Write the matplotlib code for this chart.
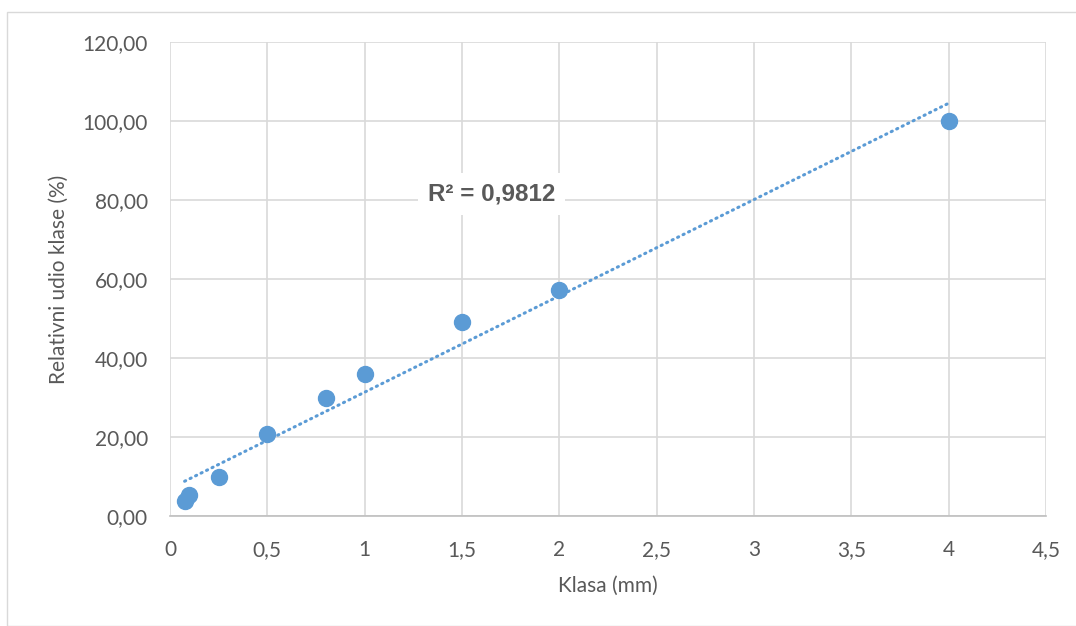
import numpy as np
import matplotlib.pyplot as plt
from matplotlib.patches import Rectangle

# data
klasa = [0.075, 0.1, 0.25, 0.5, 0.8, 1.0, 1.5, 2.0, 4.0]
udio = [3.8, 5.3, 10.0, 20.7, 29.8, 36.0, 49.2, 57.2, 100.0]
r2_text = 'R² = 0,9812'
yticks = [0, 20, 40, 60, 80, 100, 120]
xticks = [0, 0.5, 1, 1.5, 2, 2.5, 3, 3.5, 4, 4.5]

blue = '#5B9BD5'
grey = '#595959'
plt.rcParams['font.family'] = ['Lato', 'DejaVu Sans']

fig = plt.figure(figsize=(10.76, 6.26), dpi=100)
# outer chart border
fig.patches.append(Rectangle((7/1076, 0), 1.1, 1 - 12/626, transform=fig.transFigure,
                             fill=False, edgecolor='#D9D9D9', linewidth=1))
ax = fig.add_axes([170/1076, 1 - 516/626, 876/1076, 474/626])

# linear trendline
p = np.polyfit(klasa, udio, 1)
xt = np.array([min(klasa), max(klasa)])
ax.plot(xt, np.polyval(p, xt), color=blue, linewidth=2.2,
        linestyle=(0, (0.4, 1.6)), dash_capstyle='round', zorder=3)
ax.plot(klasa, udio, 'o', color=blue, markersize=11.5, zorder=4)

ax.set_xlim(0, 4.5)
ax.set_ylim(0, 120)
ax.set_xticks(xticks)
ax.set_xticklabels([('%g' % v).replace('.', ',') for v in xticks])
ax.set_yticks(yticks)
ax.yaxis.set_major_formatter(plt.FuncFormatter(lambda v, _: ('%.2f' % v).replace('.', ',')))
ax.grid(True, color='#D9D9D9', linewidth=1.2)
ax.set_axisbelow(True)
for s in ['left', 'right', 'top']:
    ax.spines[s].set_visible(False)
ax.spines['bottom'].set_color('#BFBFBF')
ax.spines['bottom'].set_linewidth(1.2)
ax.tick_params(length=0, labelsize=15, colors=grey)
ax.tick_params(axis='x', pad=17)
ax.tick_params(axis='y', pad=16)
ax.set_xlabel('Klasa (mm)', fontsize=15, color=grey, labelpad=12)
ax.set_ylabel('Relativni udio klase (%)', fontsize=15, color=grey, labelpad=10)

ax.text(1.65, 81.5, r2_text, fontsize=17.5, color=grey, family='Liberation Sans',
        weight='bold', ha='center', va='center', zorder=5,
        bbox=dict(facecolor='white', edgecolor='none', pad=7))

fig.savefig('out.png', dpi=100)
